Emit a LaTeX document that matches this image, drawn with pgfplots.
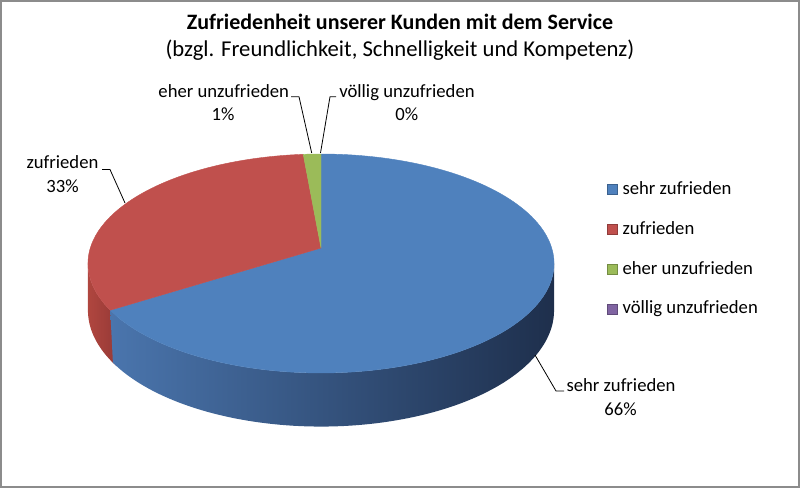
\documentclass[border=0pt]{standalone}
\usepackage{pgfplots}
\pgfplotsset{compat=1.18}
\usepackage{pgfplotstable}
\usepackage{fontspec}
\setmainfont{Carlito}

\definecolor{cBlue}{HTML}{4F81BD}
\definecolor{cRed}{HTML}{C0504D}
\definecolor{cGreen}{HTML}{9BBB59}
\definecolor{cViolet}{HTML}{8064A2}
\definecolor{sBlueL}{HTML}{4A75AD}
\definecolor{sBlueM}{HTML}{2B466C}
\definecolor{sBlueR}{HTML}{1E2F4C}
\definecolor{sRedL}{HTML}{B0463F}
\definecolor{sRedR}{HTML}{973A37}
\definecolor{frameGray}{HTML}{8C8C8C}

% share of each category (percent)
\pgfplotstableread{
cat value
sehr 66.0
zuf 32.6
eher 1.4
voellig 0.0
}\piedata
\pgfplotstablegetelem{0}{value}\of\piedata\edef\vA{\pgfplotsretval}
\pgfplotstablegetelem{1}{value}\of\piedata\edef\vB{\pgfplotsretval}
\pgfplotstablegetelem{2}{value}\of\piedata\edef\vC{\pgfplotsretval}
\pgfplotstablegetelem{3}{value}\of\piedata\edef\vD{\pgfplotsretval}
\pgfmathsetmacro\aA{3.6*\vA}
\pgfmathsetmacro\aB{\aA+3.6*\vB}
\pgfmathsetmacro\aC{\aB+3.6*\vC}
\pgfmathsetmacro\aD{\aC+3.6*\vD}
\pgfmathsetmacro\aAm{\aA-3}
% geometry of the tilted pie (pixel units)
\def\pcx{321}\def\pcy{248}\def\pA{230.7}\def\pB{107.3}\def\pk{0.1415}\def\pD{46}
\pgfmathsetmacro\sL{acos(-\pk)}
\pgfmathsetmacro\sR{360-\sL}
\newcommand\fs{\fontsize{14}{16}\selectfont}

\begin{document}
\begin{tikzpicture}
\begin{axis}[
  scale only axis, width=600pt, height=366pt,
  xmin=0, xmax=800, ymin=0, ymax=488, y dir=reverse,
  hide axis, clip=false,
  declare function={
    sc(\a)=1/(1+\pk*cos(\a));
    px(\a)=\pcx+\pA*sin(\a)*sc(\a);
    py(\a)=\pcy-\pB*cos(\a)*sc(\a);
  },
  legend cell align=left,
  legend style={at={(axis cs:607,184)}, anchor=north west, draw=none, fill=none,
    inner sep=0pt, outer sep=0pt, row sep=22pt, column sep=3.75pt,
    font=\fs,
    nodes={inner sep=0pt, text height=7.5pt, text depth=0pt, anchor=base west}},
]
% frame
\draw[frameGray, line width=1.5pt] (axis cs:1,1) rectangle (axis cs:799,487);

% side faces
\addplot[forget plot, draw=none, left color=sRedL, right color=sRedR,
  domain=0:2, samples=61, variable=\t]
  ({px(\aAm+(\sR-\aAm)*min(\t,2-\t))},
   {py(\aAm+(\sR-\aAm)*min(\t,2-\t)) + (\t>1)*\pD*sc(\aAm+(\sR-\aAm)*min(\t,2-\t))});
\addplot[forget plot, draw=none, left color=sBlueL, middle color=sBlueM, right color=sBlueR,
  domain=0:2, samples=201, variable=\t]
  ({px(\sL+(\aA-\sL)*min(\t,2-\t))},
   {py(\sL+(\aA-\sL)*min(\t,2-\t)) + (\t>1)*\pD*sc(\sL+(\aA-\sL)*min(\t,2-\t))});

% top faces
\addplot[forget plot, fill=cBlue, draw=cBlue, line width=0.3pt, domain=0:\aA, samples=160, variable=\t]
  ({px(\t)},{py(\t)}) -- (axis cs:\pcx,\pcy) -- cycle;
\addplot[forget plot, fill=cRed, draw=cRed, line width=0.3pt, domain=\aA:\aB, samples=90, variable=\t]
  ({px(\t)},{py(\t)}) -- (axis cs:\pcx,\pcy) -- cycle;
\addplot[forget plot, fill=cGreen, draw=cGreen, line width=0.3pt, domain=\aB:\aC, samples=10, variable=\t]
  ({px(\t)},{py(\t)}) -- (axis cs:\pcx,\pcy) -- cycle;

% legend
\addlegendimage{legend image code/.code={\draw[draw=cBlue!75!black, fill=cBlue, line width=0.4pt] (0pt,0pt) rectangle (7.5pt,7.5pt);}}
\addlegendentry{sehr zufrieden}
\addlegendimage{legend image code/.code={\draw[draw=cRed!75!black, fill=cRed, line width=0.4pt] (0pt,0pt) rectangle (7.5pt,7.5pt);}}
\addlegendentry{zufrieden}
\addlegendimage{legend image code/.code={\draw[draw=cGreen!75!black, fill=cGreen, line width=0.4pt] (0pt,0pt) rectangle (7.5pt,7.5pt);}}
\addlegendentry{eher unzufrieden}
\addlegendimage{legend image code/.code={\draw[draw=cViolet!75!black, fill=cViolet, line width=0.4pt] (0pt,0pt) rectangle (7.5pt,7.5pt);}}
\addlegendentry{völlig unzufrieden}

% titles
\node[anchor=base, font=\bfseries\fontsize{16.5}{19}\selectfont] at (axis cs:400,30) {Zufriedenheit unserer Kunden mit dem Service};
\node[anchor=base, font=\fontsize{17}{20}\selectfont] at (axis cs:400,57) {(bzgl. Freundlichkeit, Schnelligkeit und Kompetenz)};

% data labels
\node[anchor=base, font=\fs] at (axis cs:62.5,169) {zufrieden};
\node[anchor=base, font=\fs] at (axis cs:62.5,193) {33\%};
\node[anchor=base, font=\fs] at (axis cs:223.7,98) {eher unzufrieden};
\node[anchor=base, font=\fs] at (axis cs:223,121) {1\%};
\node[anchor=base, font=\fs] at (axis cs:407,98) {völlig unzufrieden};
\node[anchor=base, font=\fs] at (axis cs:406.7,121) {0\%};
\node[anchor=base, font=\fs] at (axis cs:621,392) {sehr zufrieden};
\node[anchor=base, font=\fs] at (axis cs:620.5,416) {66\%};

% leader lines
\draw[black, line width=0.6pt] (axis cs:102,169.5) -- (axis cs:110,169.5) -- (axis cs:125,203);
\draw[black, line width=0.6pt] (axis cs:291,96.7) -- (axis cs:299,96.7) -- (axis cs:311.7,153);
\draw[black, line width=0.6pt] (axis cs:336,96.7) -- (axis cs:330,96.7) -- (axis cs:320.5,153);
\draw[black, line width=0.6pt] (axis cs:535,355) -- (axis cs:556,391) -- (axis cs:564,391);
\end{axis}
\end{tikzpicture}
\end{document}
